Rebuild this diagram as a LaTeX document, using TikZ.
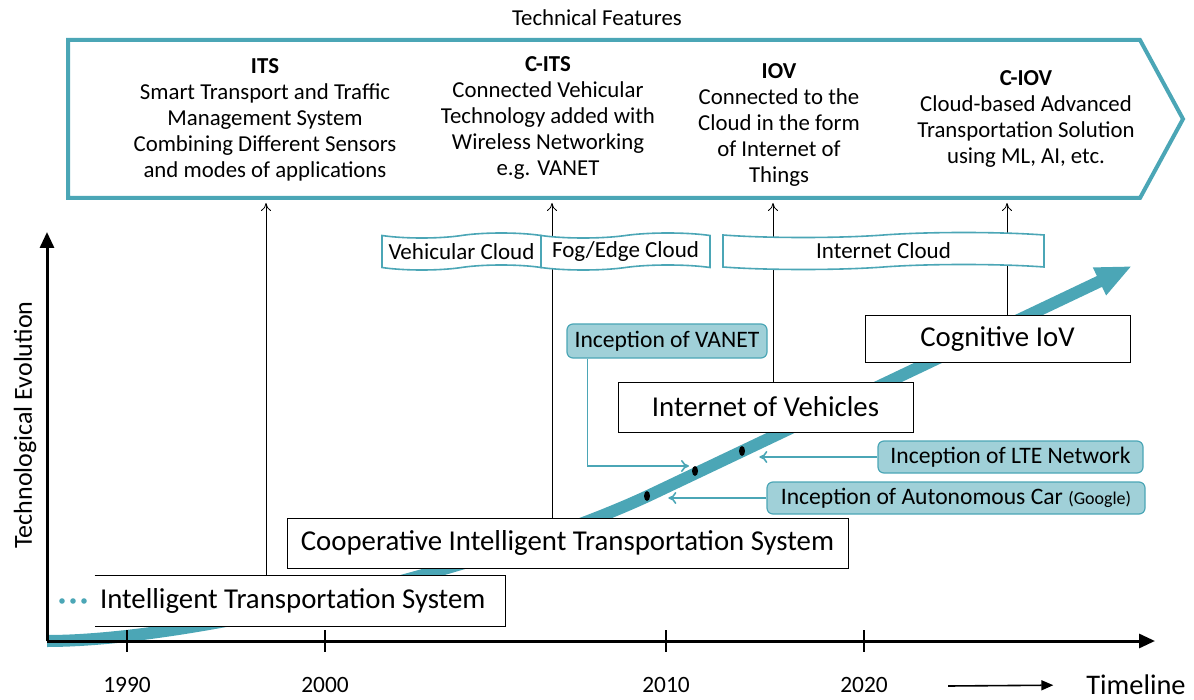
\documentclass[tikz,border=0pt]{standalone}
\usepackage{fontspec}
\setmainfont{Carlito}
\usetikzlibrary{arrows.meta,shapes.symbols,shapes.geometric,positioning,calc}
\definecolor{tealline}{RGB}{75,166,182}
\definecolor{tealfill}{RGB}{160,208,216}
\tikzset{
  feat/.style={align=center, font=\fontsize{11.4}{13}\selectfont, inner sep=0pt},
  era/.style={draw, fill=white, font=\fontsize{14.4}{16}\selectfont, inner sep=0pt, line width=0.5pt},
  event/.style={draw=tealline, fill=tealfill, rounded corners=3pt, font=\fontsize{11.8}{13}\selectfont, inner sep=0pt, line width=0.6pt},
  layer/.style={tape, draw=tealline, fill=white, line width=0.8pt, tape bend top=in and out, tape bend bottom=in and out, tape bend height=2.5pt, font=\fontsize{11.5}{13}\selectfont, inner sep=0pt},
  up/.style={-{To[length=4pt,width=5pt]}, line width=0.4pt},
  point/.style={tealline, line width=0.8pt, -{To[length=4pt,width=6pt]}},
  milestone/.style={ellipse, fill=black, inner sep=0pt, minimum width=3pt, minimum height=5pt},
  year/.style={font=\fontsize{11.7}{13}\selectfont}
}
\begin{document}
\begin{tikzpicture}[x=0.5pt,y=-0.5pt]
  \useasboundingbox (0,0) rectangle (1194,700);

  % technical features banner
  \node[font=\fontsize{11.4}{13}\selectfont] (title) at (597,18) {Technical Features};
  \draw[tealline, line width=2pt, line join=miter] (68,40) -- (1140,40) -- (1183,119) -- (1140,198) -- (68,198) -- cycle;
  \coordinate (bannerBottom) at (0,199);
  \node[feat] (featITS) at (265,120) {\textbf{ITS}\\Smart Transport and Traffic\\Management System\\Combining Different Sensors\\and modes of applications};
  \node[feat] (featCITS) at (548,118) {\textbf{C-ITS}\\Connected Vehicular\\Technology added with\\Wireless Networking\\e.g. VANET};
  \node[feat] (featIOV) at (779,125) {\textbf{IOV}\\Connected to the\\Cloud in the form\\of Internet of\\Things};
  \node[feat] (featCIOV) at (1026,118.5) {\textbf{C-IOV}\\Cloud-based Advanced\\Transportation Solution\\using ML, AI, etc.};

  % axes
  \coordinate (origin) at (47,641);
  \coordinate (ytip) at (47,232);
  \coordinate (xtip) at (1155,641);

  % evolution curve
  \draw[tealline, line width=6pt, -{Triangle[length=18pt,width=14pt]}]
    (origin) .. controls (200,641) and (500,565) .. (650,495) -- (1132,266);

  \draw[line width=1.5pt, -{Triangle[length=8pt,width=7pt]}] (origin) -- (ytip);
  \draw[line width=1.5pt, -{Triangle[length=8pt,width=7pt]}] (origin) -- (xtip);
  \foreach \x/\yr in {127/1990,325/2000,666/2010,864/2020}{
    \draw[line width=0.8pt] (\x,630) -- (\x,652);
    \node[year] at (\x,685) {\yr};
  }
  \node[rotate=90, font=\fontsize{13}{15}\selectfont] (ylabel) at (25,425) {Technological Evolution};
  \node[font=\fontsize{14.2}{16}\selectfont] (xlabel) at (1136,685) {Timeline};
  \coordinate (tlstart) at (948,686);
  \draw[line width=0.8pt, shorten >=13pt, -{Triangle[length=6pt,width=5pt]}] (tlstart) -- (xlabel.west);

  % generations
  \node[era, minimum width=205pt, minimum height=25pt, text width=200pt, inner xsep=2.5pt, align=flush left, draw=none] (its) at (300,601) {Intelligent Transportation System};
  \draw[line width=0.5pt] (its.north west) -- (its.north east) -- (its.south east) -- (its.south west);
  \foreach \x in {62,73,84}
    \fill[tealline] (\x,601) circle (1.4pt);
  \node[era, minimum width=280.5pt, minimum height=25pt] (cits) at (567.5,543) {Cooperative Intelligent Transportation System};
  \node[era, minimum width=147.5pt, minimum height=25pt] (iov) at (765.5,407) {Internet of Vehicles};
  \node[era, minimum width=132.5pt, minimum height=23pt] (ciov) at (997.5,339) {Cognitive IoV};

  % links to the banner
  \coordinate (xITS) at (266,0);
  \coordinate (xCITS) at (552,0);
  \coordinate (xIOV) at (773,0);
  \coordinate (xCIOV) at (1007,0);
  \draw[up, shorten >=2pt] (its.north -| xITS) -- (xITS |- bannerBottom);
  \draw[up, shorten >=2pt] (cits.north -| xCITS) -- (xCITS |- bannerBottom);
  \draw[up, shorten >=2pt] (iov.north -| xIOV) -- (xIOV |- bannerBottom);
  \draw[up, shorten >=2pt] (ciov.north -| xCIOV) -- (xCIOV |- bannerBottom);

  % cloud layers
  \node[layer, minimum width=79.5pt, minimum height=18.5pt] (vcloud) at (461.5,251.5) {Vehicular Cloud};
  \node[layer, minimum width=84.5pt, minimum height=18.5pt] (fcloud) at (625.5,251.5) {Fog/Edge Cloud};
  \node[layer, minimum width=160.5pt, minimum height=18.5pt] (icloud) at (883.5,251) {Internet Cloud};

  % milestones
  \node[milestone] (dotAuto) at (647,496) {};
  \node[milestone] (dotVanet) at (695,471) {};
  \node[milestone] (dotLTE) at (742,451) {};
  \node[event, minimum width=100pt, minimum height=17pt] (vanet) at (667,341) {Inception of VANET};
  \node[event, minimum width=132.5pt, minimum height=16pt] (lte) at (1010.5,457) {Inception of LTE Network};
  \node[event, minimum width=189pt, minimum height=16pt] (auto) at (956,498) {Inception of Autonomous Car {\fontsize{9}{10}\selectfont(Google)}};
  \draw[point] ($(vanet.south west)+(21,0)$) |- ($(dotVanet)+(-6,-5)$);
  \draw[point, shorten >=7pt] (lte.west) -- (lte.west -| dotLTE.east);
  \draw[point, shorten >=9pt] (auto.west) -- (auto.west -| dotAuto.east);
\end{tikzpicture}
\end{document}
